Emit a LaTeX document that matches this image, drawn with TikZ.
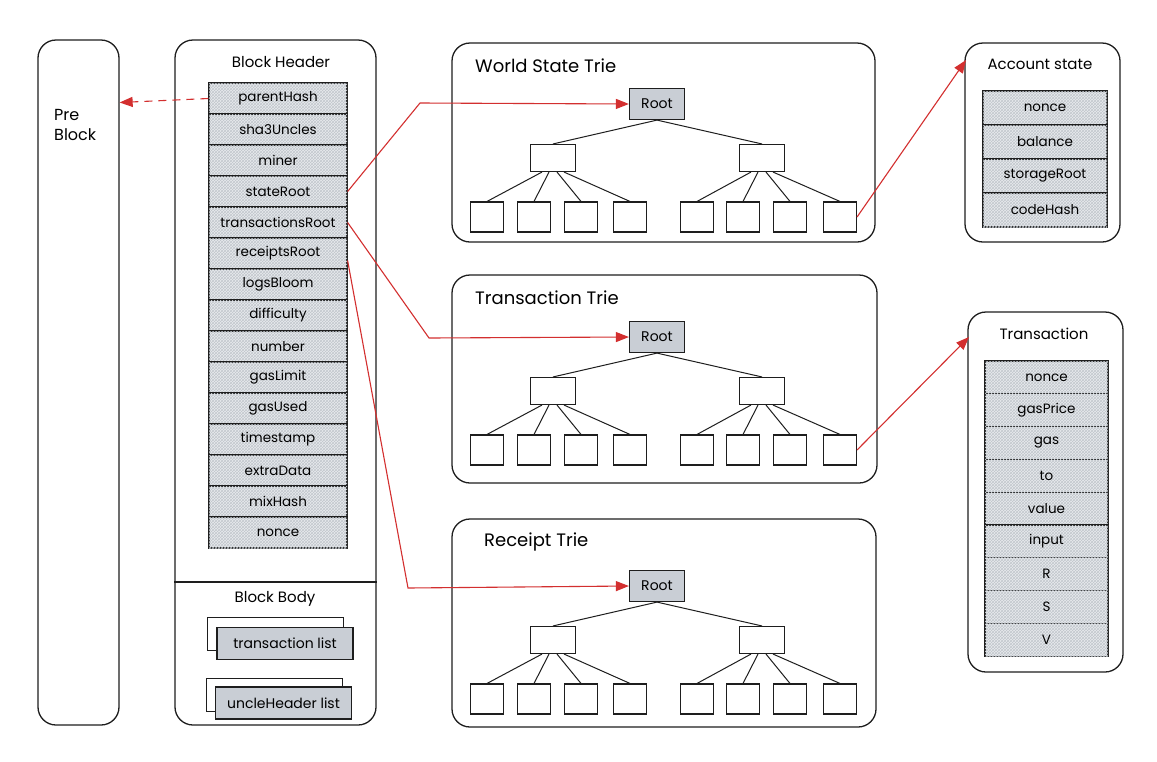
\documentclass[tikz,border=0pt]{standalone}
\usepackage{fontspec}
\setmainfont{Poppins}
\usetikzlibrary{arrows.meta,patterns,calc}
\definecolor{ared}{HTML}{D32F2F}
\definecolor{rootfill}{HTML}{C9CED5}
\definecolor{hatchbg}{HTML}{E8EBEE}
\definecolor{hatchln}{HTML}{C2C7CD}
\definecolor{ink}{HTML}{1E1E1E}
\begin{document}
\begin{tikzpicture}[x=1pt,y=-1pt,
  panel/.style={draw=ink, line width=1.3pt, rounded corners=18pt, inner sep=0pt},
  field/.style={draw=ink, line width=1.2pt, fill=hatchbg, postaction={pattern=crosshatch, pattern color=hatchln}, inner sep=0pt, font=\fontsize{13.5}{15}\selectfont},
  hfield/.style={field, minimum width=138pt, minimum height=31pt},
  afield/.style={field, minimum width=124pt, minimum height=34pt},
  tfield/.style={field, minimum width=123pt, minimum height=32.8pt},
  rootbox/.style={draw=ink, line width=1.2pt, fill=rootfill, minimum width=55pt, minimum height=31pt, inner sep=0pt, font=\fontsize{14}{16}\selectfont},
  midbox/.style={draw=ink, line width=1.1pt, fill=white, minimum width=45pt, minimum height=27pt, inner sep=0pt},
  leafbox/.style={draw=ink, line width=1.1pt, fill=white, minimum width=33pt, minimum height=30pt, inner sep=0pt},
  edge/.style={draw=ink, line width=1pt},
  listback/.style={draw=ink, line width=1pt, fill=white, minimum width=136pt, minimum height=33pt, inner sep=0pt},
  listfront/.style={draw=ink, line width=1.2pt, fill=rootfill, minimum width=136pt, minimum height=32pt, inner sep=0pt, font=\fontsize{14}{16}\selectfont},
  title/.style={font=\fontsize{15}{17}\selectfont, inner sep=0pt},
  bigtitle/.style={font=\fontsize{18}{20}\selectfont, inner sep=0pt, anchor=west},
  redarrow/.style={draw=ared, line width=1.1pt, -{Triangle[length=13pt,width=10pt]}},
  trie/.pic={
    \node[rootbox] (-root) at (657,104) {Root};
    \node[midbox] (-m1) at (553,158) {};
    \node[midbox] (-m2) at (762,158) {};
    \foreach \xx [count=\i] in {487,534,581,630,697,743,790,840}
      \node[leafbox] (-l\i) at (\xx,217) {};
    \draw[edge] (-root.south) -- (-m1.north);
    \draw[edge] (-root.south) -- (-m2.north);
    \foreach \i/\dx in {1/-11,2/-4,3/4,4/11} \draw[edge] ([xshift=\dx pt]-m1.south) -- (-l\i.north);
    \foreach \i/\dx in {5/-11,6/-4,7/4,8/11} \draw[edge] ([xshift=\dx pt]-m2.south) -- (-l\i.north);
  }
]
\useasboundingbox[fill=white] (0,0) rectangle (1157,761);

% Pre block
\node[panel, minimum width=81pt, minimum height=685pt] (pre) at (78.5,382.5) {};
\node[font=\fontsize{16}{20}\selectfont, align=left, anchor=west, inner sep=0pt] (pretxt) at (54,125) {Pre\\Block};

% Block header panel
\node[panel, minimum width=201pt, minimum height=685pt] (bh) at (275.5,382.5) {};
\draw[ink, line width=1.2pt] (bh.west |- 0,582) -- (bh.east |- 0,582);
\node[title] (bhtitle) at (281,62) {Block Header};
\foreach \lab [count=\i] in {parentHash,sha3Uncles,miner,stateRoot,transactionsRoot,receiptsRoot,logsBloom,difficulty,number,gasLimit,gasUsed,timestamp,extraData,mixHash,nonce}
  \node[hfield] (h\i) at (278,{83+31*(\i-0.5)}) {\lab};

% Block body
\node[title] (bbtitle) at (275,599) {Block Body};
\node[listback] (tlback) at (275,633.5) {};
\node[listfront] (tlist) at (285,643.5) {transaction list};
\node[listback] (ulback) at (274.5,694.5) {};
\node[listfront] (ulist) at (283.5,703) {uncleHeader list};

% Trie panels
\node[panel, minimum width=423pt, minimum height=199pt] (wsp) at (663.5,142.5) {};
\node[bigtitle] (wstitle) at (475,66) {World State Trie};
\pic (wst) at (0,0) {trie};

\node[panel, minimum width=425pt, minimum height=208pt] (txp) at (664.5,379) {};
\node[bigtitle] (txtitle) at (475,298) {Transaction Trie};
\pic (txt) at (0,233) {trie};

\node[panel, minimum width=424pt, minimum height=208pt] (rcp) at (664,623) {};
\node[bigtitle] (rctitle) at (484,542) {Receipt Trie};
\pic (rct) at (0,482) {trie};

% Account state
\node[panel, minimum width=155pt, minimum height=199pt] (acct) at (1042.5,142.5) {};
\node[title] (accttitle) at (1040,64) {Account state};
\foreach \lab [count=\i] in {nonce,balance,storageRoot,codeHash}
  \node[afield] (a\i) at (1045,{91+34*(\i-0.5)}) {\lab};

% Transaction
\node[panel, minimum width=155pt, minimum height=360pt] (txn) at (1045.5,492) {};
\node[title] (txntitle) at (1044,334) {Transaction};
\foreach \lab [count=\i] in {nonce,gasPrice,gas,to,value,input,R,S,V}
  \node[tfield] (t\i) at (1046.5,{361+32.8*(\i-0.5)}) {\lab};

% Connectors
\coordinate (prein) at ([yshift=-4pt]pre.east |- h1.west);
\draw[redarrow, dash pattern=on 8pt off 6pt] (h1.west) -- (prein);
\draw[redarrow] (h4.east) -- (420,103) -- (wst-root.west);
\draw[redarrow] (h5.east) -- (429,338) -- (txt-root.west);
\draw[redarrow] ([yshift=-7pt]h6.east) -- (408,588) -- (rct-root.west);
\coordinate (acctin) at (966,60);
\coordinate (txnin) at (969,337);
\draw[redarrow] (wst-l8.east) -- (acctin);
\draw[redarrow] (txt-l8.east) -- (txnin);
\end{tikzpicture}
\end{document}
